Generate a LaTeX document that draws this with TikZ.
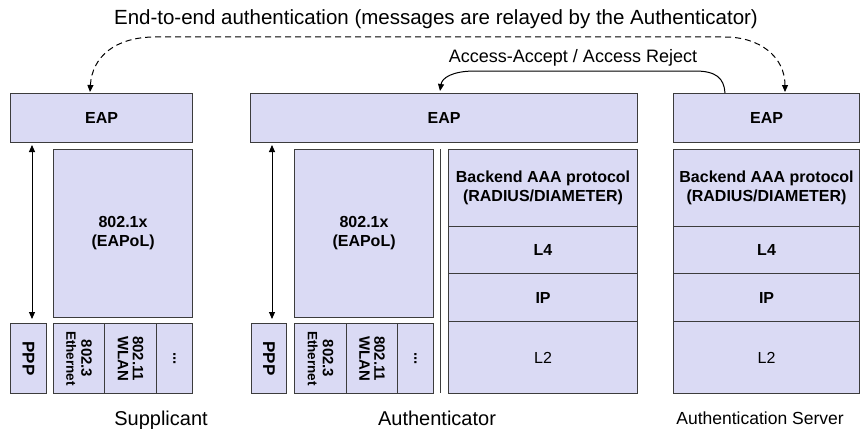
\documentclass[tikz,border=0pt]{standalone}
\usepackage{fontspec}
\setmainfont{Liberation Sans}
\usetikzlibrary{arrows.meta,calc}
\definecolor{boxfill}{RGB}{218,218,244}
\definecolor{boxline}{RGB}{60,60,60}
\begin{document}
\begin{tikzpicture}[x=1pt,y=-1pt,
  box/.style={draw=boxline,fill=boxfill,line width=1.1pt,inner sep=0pt,anchor=north west,align=center,
    font=\bfseries\fontsize{16}{19}\selectfont},
  rlbl/.style={rotate=-90,align=center,inner sep=0pt,font=\bfseries\fontsize{15}{15}\selectfont},
  tip/.style={-{Triangle[length=7pt,width=6pt]}},
  dbl/.style={{Triangle[length=7pt,width=6pt]}-{Triangle[length=7pt,width=6pt]},line width=0.9pt},
  caption/.style={font=\fontsize{20}{23}\selectfont,anchor=base}]
\useasboundingbox (0,0) rectangle (861,428);
\fill[white] (0,0) rectangle (861,428);

% Supplicant
\node[box,minimum width=182pt,minimum height=49pt] (eap1) at (10,93) {EAP};
\node[box,minimum width=139pt,minimum height=168pt] (x1) at (53,149) {802.1x\\(EAPoL)};
\node[box,minimum width=36pt,minimum height=70pt,label={[rlbl,font=\bfseries\fontsize{17}{17}\selectfont]center:PPP}] (ppp1) at (10,323) {};
\node[box,minimum width=51pt,minimum height=70pt,label={[rlbl]center:802.3\\{\fontsize{13.5}{14}\selectfont Ethernet}}] (e1) at (53,323) {};
\node[box,minimum width=52pt,minimum height=70pt,label={[rlbl]center:802.11\\WLAN}] (w1) at (104,323) {};
\node[box,minimum width=36pt,minimum height=70pt,label={[rlbl]center:...}] (d1) at (156,323) {};
\coordinate (a1t) at (32,145);
\coordinate (a1b) at (32,319);
\draw[dbl] (a1t) -- (a1b);
\node[caption] (cap1) at (161,425) {Supplicant};

% Authenticator
\node[box,minimum width=387pt,minimum height=49pt] (eap2) at (250,93) {EAP};
\node[box,minimum width=139pt,minimum height=168pt] (x2) at (294,149) {802.1x\\(EAPoL)};
\node[box,minimum width=35pt,minimum height=70pt,label={[rlbl,font=\bfseries\fontsize{17}{17}\selectfont]center:PPP}] (ppp2) at (251,323) {};
\node[box,minimum width=52pt,minimum height=70pt,label={[rlbl]center:802.3\\{\fontsize{13.5}{14}\selectfont Ethernet}}] (e2) at (294,323) {};
\node[box,minimum width=51pt,minimum height=70pt,label={[rlbl]center:802.11\\WLAN}] (w2) at (346,323) {};
\node[box,minimum width=36pt,minimum height=70pt,label={[rlbl]center:...}] (d2) at (397,323) {};
\coordinate (a2t) at (272,145);
\coordinate (a2b) at (272,319);
\draw[dbl] (a2t) -- (a2b);
\coordinate (sept) at (440,149);
\coordinate (sepb) at (440,393);
\draw[line width=1pt,boxline] (sept) -- (sepb);
\node[box,minimum width=189pt,minimum height=77pt] (b2) at (448,149) {Backend AAA protocol\\(RADIUS/DIAMETER)};
\node[box,minimum width=189pt,minimum height=47pt] (l42) at (448,226) {L4};
\node[box,minimum width=189pt,minimum height=48pt] (ip2) at (448,273) {IP};
\node[box,minimum width=189pt,minimum height=72pt,font=\fontsize{16}{19}\selectfont] (l22) at (448,321) {L2};
\node[caption] (cap2) at (437,425) {Authenticator};

% Authentication server
\node[box,minimum width=186pt,minimum height=49pt] (eap3) at (673,93) {EAP};
\node[box,minimum width=186pt,minimum height=77pt] (b3) at (673,149) {Backend AAA protocol\\(RADIUS/DIAMETER)};
\node[box,minimum width=186pt,minimum height=47pt] (l43) at (673,226) {L4};
\node[box,minimum width=186pt,minimum height=48pt] (ip3) at (673,273) {IP};
\node[box,minimum width=186pt,minimum height=72pt,font=\fontsize{16}{19}\selectfont] (l23) at (673,321) {L2};
\node[caption,font=\fontsize{17.5}{20}\selectfont] (cap3) at (760,424) {Authentication Server};

% End-to-end dashed arc
\coordinate (e2e1) at (90,92);
\coordinate (e2e2) at (785,92);
\draw[line width=1pt,dash pattern=on 6pt off 4pt,{Triangle[length=7pt,width=6pt]}-{Triangle[length=7pt,width=6pt]}]
  (e2e1) .. controls (92,57) and (115,37) .. (155,37) -- (725,37) .. controls (760,37) and (785,57) .. (e2e2);
\node[font=\fontsize{20.5}{24}\selectfont] (e2etext) at (436,19) {End-to-end authentication (messages are relayed by the Authenticator)};

% Access-Accept arrow
\coordinate (aa1) at (725,93);
\coordinate (aa2) at (440,91);
\draw[tip,line width=1pt] (aa1) .. controls (724,78) and (716,71) .. (695,71) -- (475,71) .. controls (452,71) and (442,78) .. (aa2);
\node[font=\fontsize{18}{21}\selectfont] (aatext) at (573,58) {Access-Accept / Access Reject};
\end{tikzpicture}
\end{document}
